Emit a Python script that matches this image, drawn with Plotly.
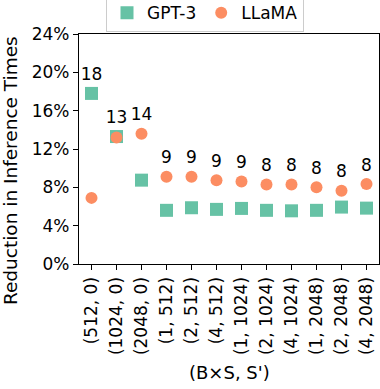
import plotly.graph_objects as go

categories = ['(512, 0)', '(1024, 0)', '(2048, 0)', '(1, 512)', '(2, 512)', '(4, 512)',
              '(1, 1024)', '(2, 1024)', '(4, 1024)', '(1, 2048)', '(2, 2048)', '(4, 2048)']
gpt3 = [17.8, 13.3, 8.75, 5.6, 5.87, 5.7, 5.8, 5.6, 5.55, 5.6, 5.94, 5.83]
llama = [6.9, 13.2, 13.6, 9.1, 9.1, 8.75, 8.6, 8.3, 8.3, 8.0, 7.65, 8.35]
labels = ['18', '13', '14', '9', '9', '9', '9', '8', '8', '8', '8', '8']
yticks = [0, 4, 8, 12, 16, 20, 24]

font = 'DejaVu Sans'
top = [max(a, b) for a, b in zip(gpt3, llama)]

data = [
    go.Scatter(x=categories, y=gpt3, mode='markers', name='GPT-3',
               marker=dict(symbol='square', size=13, color='#66c2a5')),
    go.Scatter(x=categories, y=llama, mode='markers', name='LLaMA',
               marker=dict(symbol='circle', size=12, color='#fc8d62')),
    # count labels above each pair of points
    go.Scatter(x=categories, y=top, mode='markers+text', text=labels,
               textposition='top center', showlegend=False, hoverinfo='skip',
               marker=dict(size=13, opacity=0),
               textfont=dict(family=font, size=17, color='black')),
]

axis_style = dict(ticks='outside', ticklen=5, tickwidth=1.2, tickcolor='black',
                  showline=True, linecolor='black', linewidth=1.3, mirror=True,
                  showgrid=False, zeroline=False, automargin=False,
                  tickfont=dict(size=17))

layout = go.Layout(
    width=380, height=389,
    margin=dict(l=79, r=1, t=34, b=125, autoexpand=False),
    plot_bgcolor='white', paper_bgcolor='white',
    font=dict(family=font, size=17, color='black'),
    showlegend=True,
    legend=dict(orientation='h', x=0.42, xanchor='center', y=1.008, yanchor='bottom',
                bordercolor='#cccccc', borderwidth=1, font=dict(size=17),
                itemwidth=30),
    xaxis=dict(type='category', range=[-0.5, 11.5], tickangle=-90, **axis_style),
    yaxis=dict(range=[0, 24], tickvals=yticks,
               ticktext=[f'{v}%' for v in yticks], **axis_style),
    annotations=[
        dict(text="(B×S, S')", xref='paper', yref='paper', x=0.5, y=-0.47,
             xanchor='center', yanchor='middle', showarrow=False,
             font=dict(size=18)),
        dict(text='Reduction in Inference Times', xref='paper', yref='paper',
             x=-0.23, y=0.404, xanchor='center', yanchor='middle', textangle=-90,
             showarrow=False, font=dict(size=18.5)),
    ],
)

fig = go.Figure(data=data, layout=layout)
# drop the browser's default 8px body margin so the figure sits at the page corner
fig.write_html('out.html', config={'displayModeBar': False},
               post_script="document.body.style.margin='0';")
